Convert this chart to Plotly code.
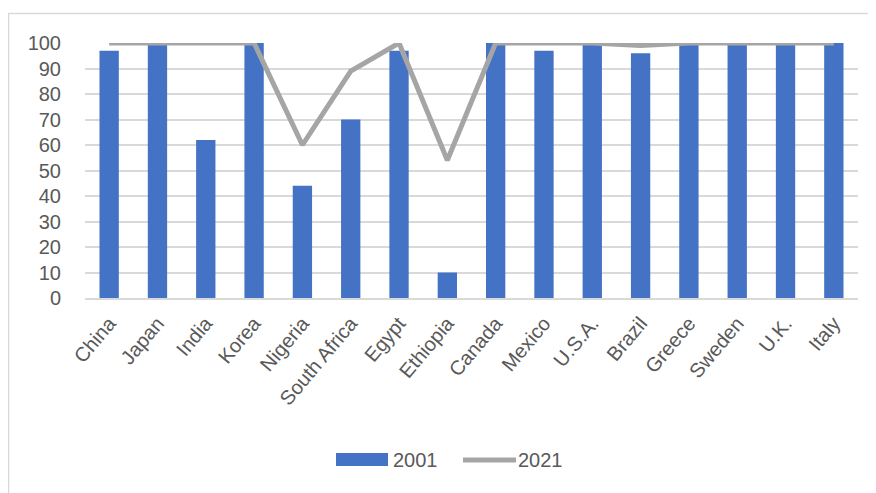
import plotly.graph_objects as go

countries = ["China", "Japan", "India", "Korea", "Nigeria", "South Africa", "Egypt", "Ethiopia",
             "Canada", "Mexico", "U.S.A.", "Brazil", "Greece", "Sweden", "U.K.", "Italy"]
y2001 = [97, 100, 62, 100, 44, 70, 97, 10, 100, 97, 100, 96, 100, 100, 100, 100]
y2021 = [100, 100, 100, 100, 60, 89, 100, 54, 100, 100, 100, 99, 100, 100, 100, 100]
yticks = [0, 10, 20, 30, 40, 50, 60, 70, 80, 90, 100]
series_names = ["2001", "2021"]
colors = ["#4472C4", "#A5A5A5"]

OFF = 8  # page body margin
W, H = 876 - OFF, 493 - OFF
L, R, T = 85 - OFF, 876 - 858, 43 - OFF
B = H - T - 255
pw, ph = W - L - R, H - T - B

def px(page_x):
    return (page_x - OFF - L) / pw

def py(page_y):
    return (H - B - (page_y - OFF)) / ph

TXT = "#595959"
FONT = "Liberation Sans, Arial, sans-serif"

fig = go.Figure()
fig.add_trace(go.Bar(x=countries, y=y2001, name=series_names[0], marker_color=colors[0],
                     marker_line_width=0, showlegend=False))
fig.add_trace(go.Scatter(x=countries, y=y2021, name=series_names[1], mode="lines",
                         line=dict(color=colors[1], width=5), cliponaxis=False,
                         showlegend=False))

shapes = [
    dict(type="rect", xref="paper", yref="paper",
         x0=px(8.5), x1=px(900), y0=py(520), y1=py(13.5),
         line=dict(color="#D9D9D9", width=1.5), layer="below"),
    dict(type="rect", xref="paper", yref="paper",
         x0=px(336), x1=px(388), y0=py(466), y1=py(453),
         fillcolor=colors[0], line=dict(width=0)),
    dict(type="line", xref="paper", yref="paper",
         x0=px(463), x1=px(516), y0=py(460), y1=py(460),
         line=dict(color=colors[1], width=5)),
]
annotations = [
    dict(text=series_names[0], xref="paper", yref="paper", x=px(391), y=py(460),
         xanchor="left", yanchor="middle", showarrow=False,
         font=dict(size=20, color=TXT, family=FONT)),
    dict(text=series_names[1], xref="paper", yref="paper", x=px(516), y=py(460),
         xanchor="left", yanchor="middle", showarrow=False,
         font=dict(size=20, color=TXT, family=FONT)),
]

fig.update_layout(
    width=W, height=H,
    margin=dict(l=L, r=R, t=T, b=B),
    paper_bgcolor="white", plot_bgcolor="white",
    bargap=0.6,
    font=dict(family=FONT, color=TXT, size=20),
    showlegend=False,
    xaxis=dict(tickangle=-50, tickfont=dict(size=20, color=TXT),
               showline=True, linecolor="#D9D9D9", linewidth=1.5,
               ticks="outside", ticklen=4, tickcolor="rgba(0,0,0,0)"),
    yaxis=dict(range=[0, 100], tickvals=yticks, showgrid=True, gridcolor="#D9D9D9",
               gridwidth=1.5, zeroline=False, tickfont=dict(size=20, color=TXT),
               ticks="outside", ticklen=19, tickcolor="rgba(0,0,0,0)"),
    shapes=shapes,
    annotations=annotations,
)

fig.write_html("out.html")
